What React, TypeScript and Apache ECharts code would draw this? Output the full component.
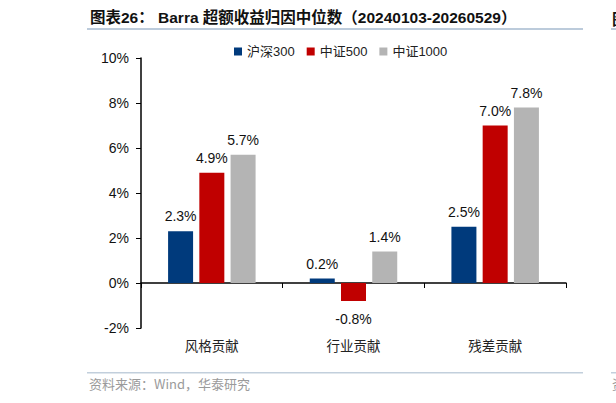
import { useEffect, useRef } from "react";
import * as echarts from "echarts";

const categories = ["风格贡献", "行业贡献", "残差贡献"];
const hs300 = [2.3, 0.2, 2.5];
const zz500 = [4.9, -0.8, 7.0];
const zz1000 = [5.7, 1.4, 7.8];
const seriesNames = ["沪深300", "中证500", "中证1000"];

const BLUE = "#003a7c";
const RED = "#c00000";
const GREY = "#b4b4b4";

const FONT = "Liberation Sans, Arial, Noto Sans CJK SC, sans-serif";
const CJK = "Noto Sans CJK SC, sans-serif";

const App = () => {
  const ref = useRef<HTMLDivElement | null>(null);

  useEffect(() => {
    if (!ref.current) return;
    const chart = echarts.init(ref.current, null, { renderer: "svg" });

    const labelFor = (v: number) => ({
      show: true,
      position: v < 0 ? "bottom" : "top",
      distance: v < 0 ? 11 : 8,
      color: "#111",
      fontSize: 14,
      fontFamily: FONT,
      formatter: () => `${v.toFixed(1)}%`,
    });

    const mk = (name: string, data: number[], color: string) => ({
      name,
      type: "bar",
      barWidth: 25,
      barGap: "25%",
      itemStyle: { color },
      data: data.map((v) => ({ value: v, label: labelFor(v) })),
    });

    chart.setOption({
      animation: false,
      grid: { left: 141, right: 50, top: 58, bottom: 75 },
      legend: {
        top: 40,
        left: 229,
        itemWidth: 8,
        itemHeight: 8,
        itemGap: 12,
        icon: "rect",
        textStyle: { fontSize: 13, color: "#222", fontFamily: FONT },
        data: seriesNames,
      },
      xAxis: {
        type: "category",
        data: categories,
        axisLine: { onZero: true, lineStyle: { color: "#000", width: 1.5 } },
        axisTick: { show: true, length: 5, lineStyle: { color: "#000" } },
        axisLabel: {
          color: "#222",
          fontSize: 13.5,
          fontFamily: CJK,
          margin: 10,
        },
      },
      yAxis: {
        type: "value",
        min: -2,
        max: 10,
        interval: 2,
        splitLine: { show: false },
        axisLine: { show: true, lineStyle: { color: "#000", width: 1.5 } },
        axisTick: { show: true, length: 5, lineStyle: { color: "#000" } },
        axisLabel: {
          color: "#111",
          fontSize: 14,
          fontFamily: FONT,
          margin: 12,
          formatter: "{value}%",
        },
      },
      series: [
        mk(seriesNames[0], hs300, BLUE),
        mk(seriesNames[1], zz500, RED),
        mk(seriesNames[2], zz1000, GREY),
      ],
      graphic: [
        {
          type: "text",
          left: 90,
          top: 10,
          style: {
            text: "图表26： Barra 超额收益归因中位数（20240103-20260529）",
            fontSize: 15.5,
            fontWeight: "bold",
            fill: "#111",
            fontFamily: FONT,
          },
        },
        {
          type: "text",
          left: 612,
          top: 10,
          style: {
            text: "图",
            fontSize: 15.5,
            fontWeight: "bold",
            fill: "#111",
            fontFamily: CJK,
          },
        },
        {
          type: "rect",
          shape: { x: 87, y: 28, width: 496, height: 2 },
          style: { fill: "#bccbdb" },
        },
        {
          type: "rect",
          shape: { x: 611, y: 28, width: 5, height: 2 },
          style: { fill: "#bccbdb" },
        },
        {
          type: "rect",
          shape: { x: 87, y: 372, width: 496, height: 1.5 },
          style: { fill: "#c2cfdc" },
        },
        {
          type: "rect",
          shape: { x: 611, y: 372, width: 5, height: 1.5 },
          style: { fill: "#c2cfdc" },
        },
        {
          type: "text",
          left: 89,
          top: 377,
          style: {
            text: "资料来源：Wind，华泰研究",
            fontSize: 13,
            fill: "#9a9a9a",
            fontFamily: CJK,
          },
        },
        {
          type: "text",
          left: 612,
          top: 377,
          style: {
            text: "资",
            fontSize: 13,
            fill: "#9a9a9a",
            fontFamily: CJK,
          },
        },
      ],
    });

    return () => chart.dispose();
  }, []);

  return (
    <div
      ref={ref}
      style={{ position: "fixed", left: 0, top: 0, width: 616, height: 403, background: "#fff" }}
    />
  );
};

export default App;
